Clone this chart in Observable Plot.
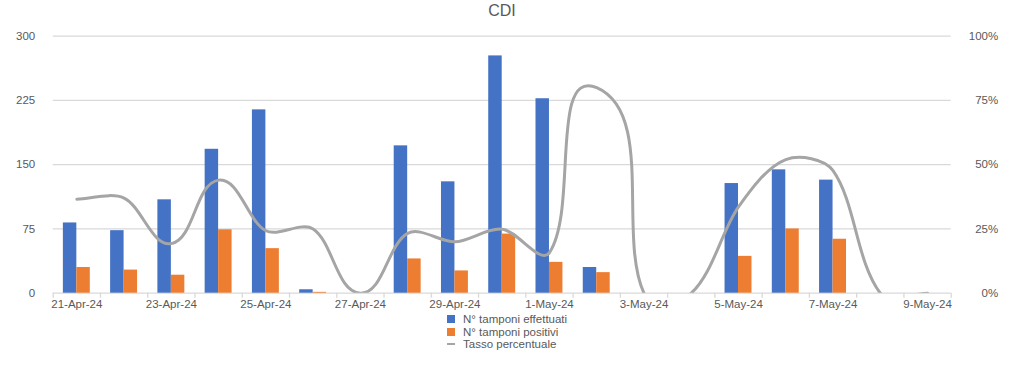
<!DOCTYPE html>
<html>
<head>
<meta charset="utf-8">
<script src="https://cdn.jsdelivr.net/npm/d3@7"></script>
<script src="https://cdn.jsdelivr.net/npm/@observablehq/plot@0.6"></script>
<style>
  html, body { margin: 0; padding: 0; background: #fff; }
  body { width: 1024px; height: 370px; position: relative; overflow: hidden;
         font-family: "Liberation Sans", Arial, Helvetica, sans-serif; color: #595959; }
  #title { position: absolute; left: 0; top: 0; width: 1004px; height: 22px; line-height: 22px;
           text-align: center; font-size: 16px; color: #595959; }
  #chart { position: absolute; left: 0; top: 22px; }
  #legend { position: absolute; left: 447px; top: 313px; font-size: 11.5px; color: #595959; }
  .row { height: 12.5px; line-height: 12.5px; display: flex; align-items: center; white-space: nowrap; }
  .sw { width: 8px; height: 8px; margin-right: 8px; flex: none; }
  .ln { width: 8px; height: 2px; margin-right: 8px; flex: none; background: #A5A5A5; }
</style>
</head>
<body>
<div id="title">CDI</div>
<div id="chart"></div>
<div id="legend"></div>
<script>
const dates = ["21-Apr-24","22-Apr-24","23-Apr-24","24-Apr-24","25-Apr-24","26-Apr-24","27-Apr-24",
  "28-Apr-24","29-Apr-24","30-Apr-24","1-May-24","2-May-24","3-May-24","4-May-24","5-May-24",
  "6-May-24","7-May-24","8-May-24","9-May-24"];
const effettuati = [82, 73, 109, 168, 214, 4, 0, 172, 130, 277, 227, 30, 0, 0, 128, 144, 132, 0, 0];
const positivi   = [30, 27, 21, 74, 52, 1, 0, 40, 26, 69, 36, 24, 0, 0, 43, 75, 63, 0, 0];
const tasso      = [0.366, 0.37, 0.193, 0.44, 0.243, 0.25, 0, 0.233, 0.20, 0.249, 0.158, 0.80, 0, 0, 0.336, 0.52, 0.477, 0, 0];
const leftTicks  = [0, 75, 150, 225, 300];
const rightTicks = ["0%", "25%", "50%", "75%", "100%"];
const seriesNames = ["N° tamponi effettuati", "N° tamponi positivi", "Tasso percentuale"];
const colors = ["#4472C4", "#ED7D31", "#A5A5A5"];

const rows = dates.map((d, i) => ({i, date: d, eff: effettuati[i], pos: positivi[i], rate: tasso[i]}));
const bounds = d3.range(dates.length + 1).map(k => k - 0.5);
const W = 0.285; // bar width in category units

// Excel-like smoothed line (Bezier, tangent length proportional to segment length)
function excelCurve(context) {
  let pts = [];
  const K = 0.3;
  return {
    areaStart() {}, areaEnd() {},
    lineStart() { pts = []; },
    point(x, y) { pts.push([+x, +y]); },
    lineEnd() {
      const n = pts.length;
      if (!n) return;
      context.moveTo(pts[0][0], pts[0][1]);
      for (let i = 0; i < n - 1; i++) {
        const p0 = pts[Math.max(0, i - 1)], p1 = pts[i], p2 = pts[i + 1], p3 = pts[Math.min(n - 1, i + 2)];
        const d = Math.hypot(p2[0] - p1[0], p2[1] - p1[1]) * K;
        let ax = p2[0] - p0[0], ay = p2[1] - p0[1];
        let bx = p3[0] - p1[0], by = p3[1] - p1[1];
        const la = Math.hypot(ax, ay) || 1, lb = Math.hypot(bx, by) || 1;
        ax /= la; ay /= la; bx /= lb; by /= lb;
        context.bezierCurveTo(p1[0] + ax * d, p1[1] + ay * d, p2[0] - bx * d, p2[1] - by * d, p2[0], p2[1]);
      }
    }
  };
}

const gridStyle = {stroke: "#d9d9d9", strokeWidth: 1.3};
const textStyle = {fontSize: 11.5, fill: "#595959", fontFamily: "Liberation Sans, Arial, sans-serif"};

const chart = Plot.plot({
  width: 1024,
  height: 298,
  marginLeft: 52.7,
  marginRight: 73.3,
  marginTop: 13.7,
  marginBottom: 27.3,
  x: {type: "linear", domain: [-0.5, dates.length - 0.5], axis: null, label: null},
  y: {domain: [0, 300], axis: null, label: null},
  marks: [
    Plot.ruleY(leftTicks.slice(1), gridStyle),
    Plot.ruleY([0], gridStyle),
    Plot.axisX({ticks: bounds, tickSize: 5, tickFormat: () => "", label: null, stroke: "#d9d9d9", strokeWidth: 1.3}),
    Plot.rectY(rows, {x1: d => d.i - W, x2: d => d.i, y: "eff", fill: colors[0], inset: 0}),
    Plot.rectY(rows, {x1: d => d.i, x2: d => d.i + W, y: "pos", fill: colors[1], inset: 0}),
    Plot.line(rows, {x: "i", y: d => d.rate * 300, stroke: colors[2], strokeWidth: 3,
      curve: excelCurve, clip: true, strokeLinecap: "round", strokeLinejoin: "round"}),
    Plot.text(leftTicks, {y: d => d, text: d => String(d), frameAnchor: "left", textAnchor: "end", dx: -18, ...textStyle}),
    Plot.text(leftTicks, {y: d => d, text: (d, k) => rightTicks[k], frameAnchor: "right", textAnchor: "end", dx: 47, ...textStyle}),
    Plot.text(rows.filter(d => d.i % 2 === 0), {x: "i", text: "date", frameAnchor: "bottom", dy: 14.3, textAnchor: "middle", ...textStyle})
  ]
});
document.getElementById("chart").appendChild(chart);

const legend = document.getElementById("legend");
seriesNames.forEach((name, k) => {
  const row = document.createElement("div");
  row.className = "row";
  const sw = document.createElement("span");
  sw.className = k < 2 ? "sw" : "ln";
  sw.style.background = colors[k];
  const t = document.createElement("span");
  t.textContent = name;
  row.appendChild(sw); row.appendChild(t);
  legend.appendChild(row);
});
</script>
</body>
</html>
